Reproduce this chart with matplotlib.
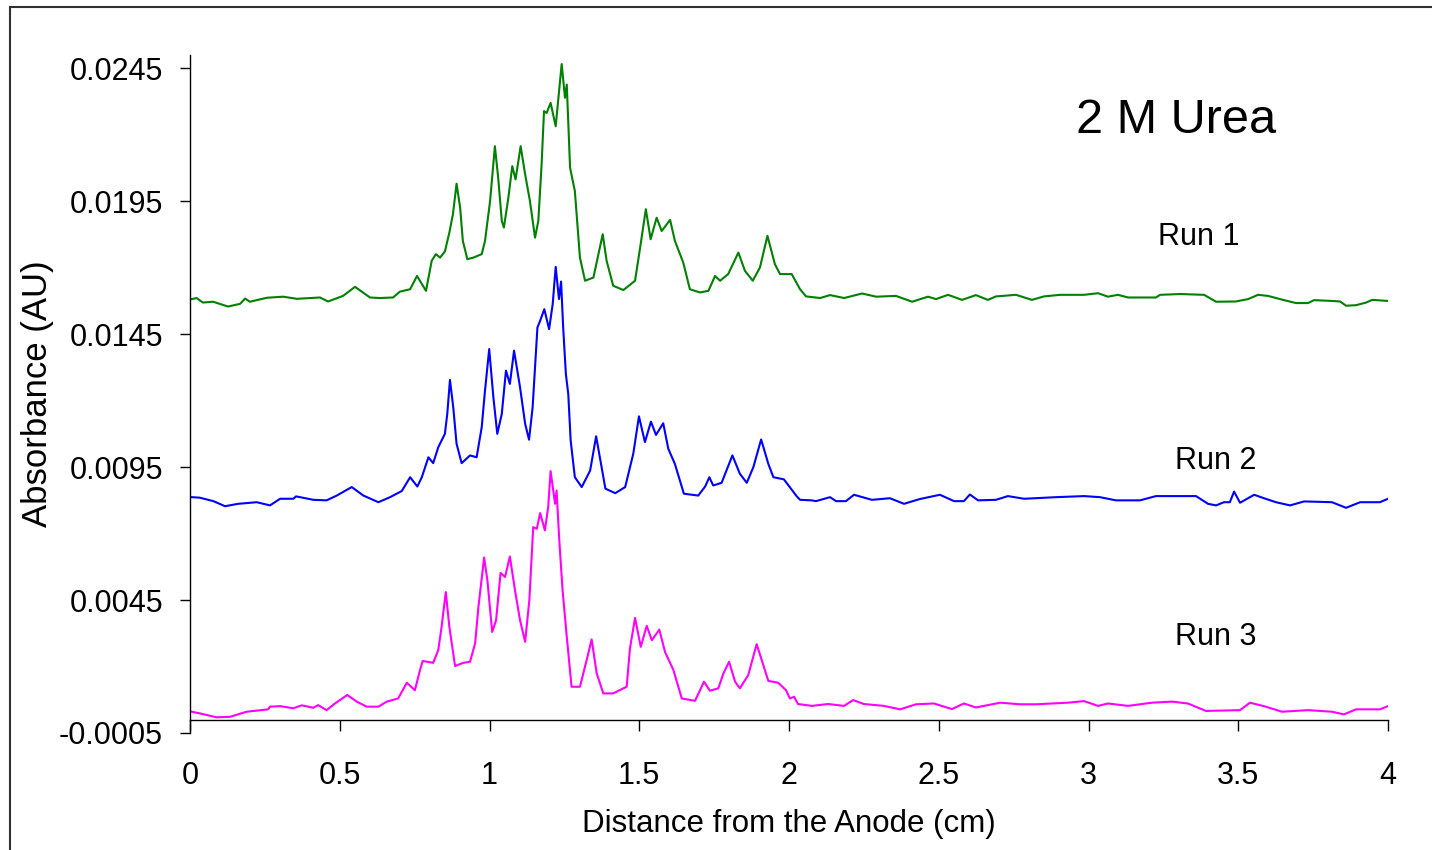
import matplotlib
matplotlib.use("Agg")
import matplotlib.pyplot as plt
from matplotlib.patches import Rectangle
import numpy as np

plt.rcParams['font.family'] = 'Liberation Sans'
plt.rcParams['axes.unicode_minus'] = False

# Run 1 (green), distance in cm, absorbance in AU
run1_x = [0.006, 0.022, 0.043, 0.077, 0.127, 0.167, 0.184, 0.200, 0.257, 0.311,
          0.357, 0.434, 0.461, 0.511, 0.551, 0.601, 0.634, 0.678, 0.701, 0.735,
          0.758, 0.788, 0.807, 0.821, 0.835, 0.851, 0.866, 0.878, 0.890, 0.902,
          0.911, 0.926, 0.946, 0.974, 0.985, 1.002, 1.018, 1.029, 1.041, 1.048,
          1.063, 1.076, 1.087, 1.104, 1.119, 1.135, 1.152, 1.163, 1.174, 1.182,
          1.191, 1.204, 1.221, 1.230, 1.241, 1.252, 1.258, 1.269, 1.285, 1.302,
          1.319, 1.347, 1.378, 1.391, 1.413, 1.447, 1.486, 1.503, 1.522, 1.538,
          1.558, 1.575, 1.603, 1.619, 1.647, 1.669, 1.703, 1.731, 1.753, 1.770,
          1.797, 1.831, 1.853, 1.879, 1.903, 1.928, 1.953, 1.970, 2.009, 2.037,
          2.057, 2.104, 2.137, 2.184, 2.244, 2.291, 2.357, 2.411, 2.464, 2.491,
          2.531, 2.578, 2.624, 2.664, 2.691, 2.758, 2.811, 2.851, 2.905, 2.985,
          3.032, 3.065, 3.098, 3.132, 3.225, 3.239, 3.306, 3.386, 3.426, 3.492,
          3.533, 3.566, 3.599, 3.653, 3.693, 3.733, 3.753, 3.813, 3.840, 3.860,
          3.893, 3.927, 3.947, 4.000]
run1_y = [0.01582, 0.01586, 0.01569, 0.01572, 0.01554, 0.01564, 0.01584, 0.01572, 0.01587, 0.01591,
          0.01583, 0.01588, 0.01573, 0.01594, 0.01628, 0.01588, 0.01586, 0.01588, 0.01610, 0.01619,
          0.01669, 0.01613, 0.01726, 0.01751, 0.01738, 0.01761, 0.01832, 0.01902, 0.02016, 0.01926,
          0.01801, 0.01732, 0.01738, 0.01751, 0.01801, 0.01951, 0.02157, 0.02038, 0.01876, 0.01851,
          0.01963, 0.02082, 0.02032, 0.02157, 0.02051, 0.01951, 0.01813, 0.01876, 0.02089, 0.02289,
          0.02282, 0.02320, 0.02232, 0.02339, 0.02466, 0.02339, 0.02389, 0.02076, 0.01988, 0.01738,
          0.01651, 0.01663, 0.01826, 0.01726, 0.01632, 0.01616, 0.01651, 0.01776, 0.01920, 0.01807,
          0.01888, 0.01838, 0.01880, 0.01801, 0.01719, 0.01619, 0.01607, 0.01613, 0.01669, 0.01651,
          0.01676, 0.01757, 0.01688, 0.01651, 0.01701, 0.01820, 0.01713, 0.01676, 0.01676, 0.01619,
          0.01592, 0.01586, 0.01597, 0.01586, 0.01603, 0.01591, 0.01594, 0.01572, 0.01591, 0.01582,
          0.01598, 0.01579, 0.01597, 0.01579, 0.01592, 0.01598, 0.01579, 0.01592, 0.01598, 0.01598,
          0.01604, 0.01591, 0.01598, 0.01588, 0.01588, 0.01598, 0.01601, 0.01598, 0.01572, 0.01573,
          0.01582, 0.01598, 0.01594, 0.01578, 0.01567, 0.01567, 0.01578, 0.01575, 0.01573, 0.01557,
          0.01559, 0.01569, 0.01579, 0.01575]

# Run 2 (blue)
run2_x = [0.006, 0.033, 0.078, 0.117, 0.161, 0.223, 0.267, 0.301, 0.345, 0.354,
          0.412, 0.456, 0.490, 0.540, 0.579, 0.629, 0.668, 0.707, 0.735, 0.759,
          0.774, 0.796, 0.812, 0.829, 0.851, 0.859, 0.868, 0.879, 0.890, 0.907,
          0.935, 0.957, 0.974, 0.985, 0.999, 1.013, 1.026, 1.041, 1.055, 1.068,
          1.082, 1.102, 1.119, 1.132, 1.144, 1.160, 1.169, 1.183, 1.199, 1.211,
          1.221, 1.232, 1.239, 1.246, 1.255, 1.263, 1.271, 1.285, 1.308, 1.336,
          1.356, 1.387, 1.420, 1.453, 1.480, 1.499, 1.519, 1.539, 1.556, 1.580,
          1.597, 1.619, 1.649, 1.697, 1.720, 1.734, 1.747, 1.775, 1.811, 1.836,
          1.859, 1.881, 1.907, 1.931, 1.948, 1.983, 2.026, 2.037, 2.076, 2.090,
          2.137, 2.157, 2.190, 2.217, 2.277, 2.337, 2.384, 2.437, 2.504, 2.551,
          2.584, 2.604, 2.631, 2.691, 2.731, 2.785, 2.892, 2.985, 3.038, 3.092,
          3.172, 3.225, 3.359, 3.399, 3.426, 3.452, 3.472, 3.486, 3.506, 3.553,
          3.586, 3.626, 3.673, 3.720, 3.813, 3.860, 3.907, 3.973, 4.000]
run2_y = [0.00837, 0.00835, 0.00822, 0.00803, 0.00812, 0.00818, 0.00806, 0.00831, 0.00831, 0.00840,
          0.00827, 0.00825, 0.00843, 0.00875, 0.00843, 0.00818, 0.00837, 0.00860, 0.00912, 0.00877,
          0.00912, 0.00987, 0.00965, 0.01025, 0.01075, 0.01150, 0.01278, 0.01175, 0.01038, 0.00965,
          0.00994, 0.00987, 0.01100, 0.01238, 0.01394, 0.01212, 0.01075, 0.01150, 0.01313, 0.01263,
          0.01388, 0.01250, 0.01113, 0.01053, 0.01175, 0.01475, 0.01500, 0.01544, 0.01469, 0.01563,
          0.01703, 0.01582, 0.01648, 0.01475, 0.01300, 0.01225, 0.01050, 0.00912, 0.00875, 0.00937,
          0.01066, 0.00869, 0.00852, 0.00875, 0.01000, 0.01141, 0.01044, 0.01121, 0.01071, 0.01115,
          0.01019, 0.00962, 0.00850, 0.00843, 0.00877, 0.00912, 0.00881, 0.00891, 0.00994, 0.00925,
          0.00891, 0.00950, 0.01054, 0.00962, 0.00912, 0.00904, 0.00840, 0.00827, 0.00825, 0.00822,
          0.00837, 0.00822, 0.00822, 0.00846, 0.00827, 0.00833, 0.00812, 0.00830, 0.00846, 0.00822,
          0.00822, 0.00847, 0.00825, 0.00827, 0.00841, 0.00831, 0.00837, 0.00841, 0.00837, 0.00825,
          0.00825, 0.00841, 0.00841, 0.00812, 0.00806, 0.00818, 0.00818, 0.00858, 0.00816, 0.00846,
          0.00833, 0.00818, 0.00806, 0.00821, 0.00818, 0.00797, 0.00818, 0.00818, 0.00831]

# Run 3 (magenta)
run3_x = [0.006, 0.044, 0.089, 0.134, 0.189, 0.261, 0.267, 0.301, 0.345, 0.373,
          0.412, 0.428, 0.456, 0.484, 0.525, 0.557, 0.590, 0.629, 0.657, 0.695,
          0.724, 0.751, 0.768, 0.777, 0.812, 0.829, 0.840, 0.854, 0.866, 0.885,
          0.913, 0.935, 0.952, 0.963, 0.982, 0.993, 1.009, 1.022, 1.037, 1.052,
          1.068, 1.085, 1.102, 1.119, 1.133, 1.146, 1.158, 1.169, 1.185, 1.196,
          1.204, 1.219, 1.224, 1.233, 1.244, 1.258, 1.274, 1.302, 1.327, 1.341,
          1.358, 1.380, 1.413, 1.458, 1.469, 1.486, 1.505, 1.525, 1.542, 1.567,
          1.586, 1.614, 1.642, 1.686, 1.703, 1.716, 1.736, 1.764, 1.781, 1.800,
          1.820, 1.836, 1.864, 1.892, 1.909, 1.931, 1.964, 1.990, 2.003, 2.017,
          2.030, 2.077, 2.130, 2.184, 2.214, 2.250, 2.317, 2.371, 2.424, 2.484,
          2.544, 2.584, 2.624, 2.705, 2.771, 2.825, 2.878, 2.932, 2.985, 3.032,
          3.065, 3.132, 3.212, 3.279, 3.332, 3.392, 3.506, 3.539, 3.586, 3.646,
          3.733, 3.813, 3.853, 3.893, 3.973, 4.000]
run3_y = [0.00030, 0.00021, 0.00009, 0.00011, 0.00030, 0.00039, 0.00049, 0.00051, 0.00043, 0.00054,
          0.00045, 0.00055, 0.00036, 0.00061, 0.00093, 0.00068, 0.00049, 0.00049, 0.00068, 0.00080,
          0.00139, 0.00111, 0.00187, 0.00221, 0.00214, 0.00262, 0.00349, 0.00480, 0.00349, 0.00202,
          0.00214, 0.00218, 0.00287, 0.00424, 0.00610, 0.00524, 0.00330, 0.00374, 0.00552, 0.00537,
          0.00614, 0.00487, 0.00374, 0.00293, 0.00449, 0.00724, 0.00718, 0.00777, 0.00712, 0.00800,
          0.00935, 0.00812, 0.00862, 0.00675, 0.00487, 0.00312, 0.00124, 0.00124, 0.00236, 0.00302,
          0.00174, 0.00099, 0.00099, 0.00124, 0.00268, 0.00383, 0.00274, 0.00353, 0.00299, 0.00339,
          0.00255, 0.00187, 0.00080, 0.00071, 0.00111, 0.00143, 0.00109, 0.00118, 0.00174, 0.00218,
          0.00143, 0.00118, 0.00168, 0.00284, 0.00224, 0.00146, 0.00139, 0.00111, 0.00080, 0.00086,
          0.00059, 0.00052, 0.00059, 0.00052, 0.00074, 0.00059, 0.00052, 0.00039, 0.00058, 0.00061,
          0.00040, 0.00061, 0.00046, 0.00064, 0.00058, 0.00058, 0.00061, 0.00064, 0.00070, 0.00052,
          0.00061, 0.00052, 0.00064, 0.00068, 0.00061, 0.00033, 0.00036, 0.00064, 0.00051, 0.00030,
          0.00036, 0.00030, 0.00020, 0.00039, 0.00039, 0.00051]

y_ticks = [-0.0005, 0.0045, 0.0095, 0.0145, 0.0195, 0.0245]
x_ticks = [0, 0.5, 1, 1.5, 2, 2.5, 3, 3.5, 4]

fig = plt.figure(figsize=(14.32, 8.5), dpi=100)
ax = fig.add_axes([190 / 1432, 1 - 733 / 850, 1198 / 1432, 678 / 850])

ax.plot(run1_x, run1_y, color='#008000', lw=1.5)
ax.plot(run2_x, run2_y, color='#0000ff', lw=1.5)
ax.plot(run3_x, run3_y, color='#ff00ff', lw=1.5)

ax.set_xlim(0, 4)
ax.set_ylim(-0.0005, 0.025)
ax.set_yticks(y_ticks)
ax.set_yticklabels(['%.4f' % t for t in y_ticks])
ax.set_xticks(x_ticks)
ax.set_xticklabels(['%g' % t for t in x_ticks])

ax.spines['top'].set_visible(False)
ax.spines['right'].set_visible(False)
ax.spines['bottom'].set_position(('data', 0))
ax.spines['left'].set_linewidth(1.0)
ax.spines['bottom'].set_linewidth(1.0)
ax.tick_params(axis='y', direction='out', length=7.5, width=1.0, pad=12, labelsize=22)
ax.tick_params(axis='x', direction='out', length=8, width=1.0, pad=22, labelsize=22)

ax.set_xlabel('Distance from the Anode (cm)', fontsize=22.5)
ax.xaxis.set_label_coords(0.5, -0.112)
fig.text(38 / 1432, 1 - 394 / 850, 'Absorbance (AU)', rotation=90,
         ha='center', va='center', fontsize=25)

ax.text(0.823, 0.904, '2 M Urea', transform=ax.transAxes, ha='center', va='center', fontsize=35)
ax.text(0.842, 0.7316, 'Run 1', transform=ax.transAxes, ha='center', va='center', fontsize=22)
ax.text(0.8564, 0.4012, 'Run 2', transform=ax.transAxes, ha='center', va='center', fontsize=22)
ax.text(0.8564, 0.1416, 'Run 3', transform=ax.transAxes, ha='center', va='center', fontsize=22)

# outer frame, cut off on right and bottom like the original
fig.patches.append(Rectangle((10 / 1432, -0.1), 1.2, 1.1 - 7 / 850, transform=fig.transFigure,
                             fill=False, edgecolor='#303030', lw=1.5))

fig.savefig('out.png', dpi=100)
